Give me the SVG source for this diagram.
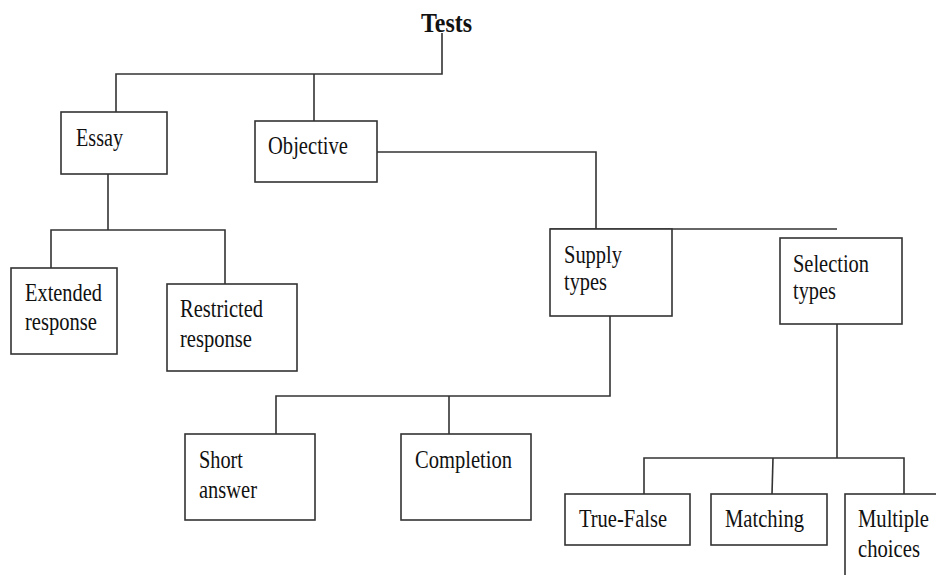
<svg xmlns="http://www.w3.org/2000/svg" width="936" height="575" viewBox="0 0 936 575">
<style>
.box{fill:#fff;stroke:#333;stroke-width:1.6}
.ln{fill:none;stroke:#333;stroke-width:1.6}
text{font-family:"Liberation Serif","Times New Roman",serif;font-size:26px;fill:#111}
.title{font-weight:bold;font-size:28px}
</style>
<rect width="936" height="575" fill="#fff"/>
<g id="connectors">
<polyline class="ln" points="442,33 442,74 116,74 116,112"/>
<line class="ln" x1="314" y1="74" x2="314" y2="121"/>
<polyline class="ln" points="377,152 596,152 596,229"/>
<line class="ln" x1="550" y1="229" x2="837" y2="229"/>
<polyline class="ln" points="108,174 108,230"/>
<polyline class="ln" points="51,268 51,230 225,230 225,284"/>
<polyline class="ln" points="610,316 610,396 276,396 276,434"/>
<line class="ln" x1="449" y1="396" x2="449" y2="434"/>
<polyline class="ln" points="837,324 837,458"/>
<polyline class="ln" points="644,494 644,458 904,458 904,494"/>
<line class="ln" x1="773" y1="458" x2="772" y2="494"/>
</g>
<g id="tests"><text class="title" x="421" y="32" textLength="51" lengthAdjust="spacingAndGlyphs">Tests</text></g>
<g id="essay"><rect class="box" x="61" y="112" width="106" height="62"/><text x="76" y="146" textLength="47" lengthAdjust="spacingAndGlyphs">Essay</text></g>
<g id="objective"><rect class="box" x="255" y="121" width="122" height="61"/><text x="268" y="154" textLength="80" lengthAdjust="spacingAndGlyphs">Objective</text></g>
<g id="extended"><rect class="box" x="11" y="268" width="106" height="86"/><text x="25" y="301" textLength="77" lengthAdjust="spacingAndGlyphs">Extended</text><text x="25" y="330" textLength="72" lengthAdjust="spacingAndGlyphs">response</text></g>
<g id="restricted"><rect class="box" x="167" y="284" width="130" height="87"/><text x="180" y="317" textLength="83" lengthAdjust="spacingAndGlyphs">Restricted</text><text x="180" y="347" textLength="72" lengthAdjust="spacingAndGlyphs">response</text></g>
<g id="supply"><rect class="box" x="550" y="229" width="122" height="87"/><text x="564" y="263" textLength="58" lengthAdjust="spacingAndGlyphs">Supply</text><text x="564" y="290" textLength="43" lengthAdjust="spacingAndGlyphs">types</text></g>
<g id="selection"><rect class="box" x="780" y="238" width="122" height="86"/><text x="793" y="272" textLength="76" lengthAdjust="spacingAndGlyphs">Selection</text><text x="793" y="299" textLength="43" lengthAdjust="spacingAndGlyphs">types</text></g>
<g id="short"><rect class="box" x="185" y="434" width="130" height="86"/><text x="199" y="468" textLength="44" lengthAdjust="spacingAndGlyphs">Short</text><text x="199" y="498" textLength="58" lengthAdjust="spacingAndGlyphs">answer</text></g>
<g id="completion"><rect class="box" x="401" y="434" width="130" height="86"/><text x="415" y="468" textLength="97" lengthAdjust="spacingAndGlyphs">Completion</text></g>
<g id="truefalse"><rect class="box" x="565" y="494" width="125" height="51"/><text x="579" y="527" textLength="88" lengthAdjust="spacingAndGlyphs">True-False</text></g>
<g id="matching"><rect class="box" x="711" y="494" width="116" height="51"/><text x="725" y="527" textLength="79" lengthAdjust="spacingAndGlyphs">Matching</text></g>
<g id="multiple"><rect class="box" x="845" y="494" width="120" height="100"/><text x="858" y="527" textLength="71" lengthAdjust="spacingAndGlyphs">Multiple</text><text x="858" y="557" textLength="62" lengthAdjust="spacingAndGlyphs">choices</text></g>
</svg>
